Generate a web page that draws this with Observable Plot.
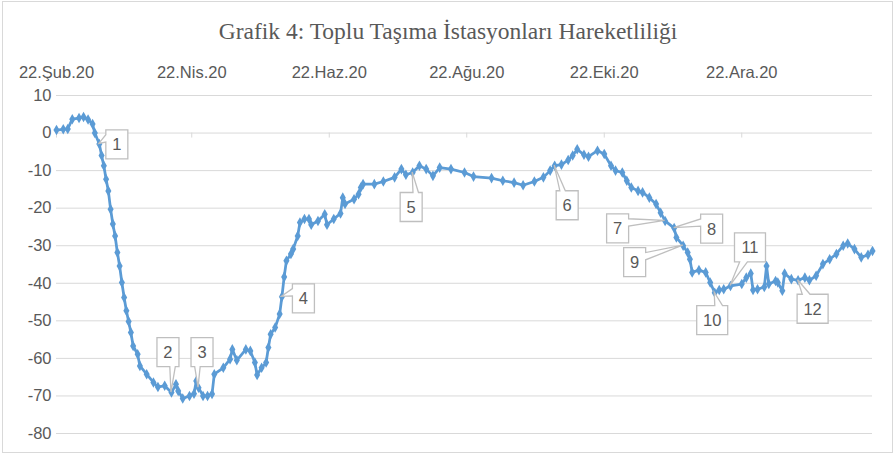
<!DOCTYPE html>
<html><head><meta charset="utf-8">
<script src="https://cdn.jsdelivr.net/npm/d3@7"></script>
<script src="https://cdn.jsdelivr.net/npm/@observablehq/plot@0.6"></script>
<style>
body{margin:0;background:#fff;}
#wrap{position:relative;width:896px;height:455px;overflow:hidden;background:#fff;}
#frame{position:absolute;left:2px;top:1px;width:891px;height:452px;border:1px solid #d9d9d9;box-sizing:border-box;pointer-events:none;}
#title{height:50px;box-sizing:border-box;padding-top:20px;line-height:1;text-align:center;font-family:"Liberation Serif","Times New Roman",serif;font-size:23.5px;color:#595959;white-space:nowrap;}
#chart svg{display:block;}
</style></head><body>
<div id="wrap"><div id="title">Grafik 4: Toplu Taşıma İstasyonları Hareketliliği</div><div id="chart"></div><div id="frame"></div></div>
<script>
// ---- data ----
const startDate = "2020-02-22";
const endOffset = 362;
const dayOffsets = [0,3,5,7,10,12,14,16,17,19,20,21,22,23,24,25,26,27,28,29,30,31,32,33,34,36,37,40,43,45,48,51,53,54,56,59,61,62,63,65,67,69,70,74,77,78,80,84,86,88,89,91,93,94,95,97,99,100,101,102,104,105,107,108,110,112,113,116,119,120,123,126,127,128,132,134,135,136,141,145,150,153,155,158,161,164,167,170,175,181,185,193,198,203,207,212,216,219,221,224,227,229,231,234,236,240,243,246,248,251,253,255,258,260,263,266,268,270,274,275,278,280,281,282,285,288,290,292,294,296,299,304,306,308,309,311,314,315,316,319,320,322,323,326,329,332,334,337,340,343,346,349,351,354,357,360,362];
const values = [0.8,1.0,1.1,3.7,4.0,4.3,3.6,2.4,0,-2.9,-6,-8.7,-12.3,-15.4,-20.3,-24.2,-27.4,-31.8,-35.4,-39.8,-43.8,-47.3,-50.2,-53.1,-56.7,-58.9,-62,-64.2,-66.4,-67.6,-67.3,-69.1,-66.9,-68.7,-70.7,-70,-69.4,-66,-67.8,-70,-70,-69.5,-64.2,-62.5,-60.2,-57.6,-60.5,-57.6,-58,-61.1,-64.4,-62.5,-61.1,-57.1,-53.6,-51.8,-48.2,-43.6,-38.3,-34,-32.2,-30.9,-27.4,-23.8,-22.9,-22.9,-24.4,-23.4,-21.6,-24.4,-22.9,-21.4,-17.2,-18.9,-17.6,-16.3,-14.5,-13.6,-13.6,-12.9,-11.8,-9.6,-11.1,-10.5,-8.7,-9.6,-11.4,-9.2,-9.6,-10.5,-11.6,-12,-12.7,-13.2,-13.9,-12.9,-11.8,-10,-8.7,-8.4,-7.2,-6,-4.3,-5.8,-6.3,-4.7,-5.6,-8.7,-10,-10.5,-12.7,-14.5,-15.4,-15.8,-17.2,-18.9,-21.2,-23.4,-25.3,-27.8,-30,-31.8,-33.6,-37.1,-36.5,-37.1,-39.8,-42.5,-41.8,-41.6,-40.7,-40.2,-38.5,-37.4,-41.8,-41.6,-41,-35.4,-40.2,-39.4,-39.8,-42,-37.4,-38.9,-39.2,-38.5,-39.2,-38,-34.9,-33.6,-32.2,-30,-29.4,-30.9,-33.1,-32.4,-31.4];
const tickDates = ["2020-02-22","2020-04-22","2020-06-22","2020-08-22","2020-10-22","2020-12-22"];
const tickLabels = ["22.Şub.20","22.Nis.20","22.Haz.20","22.Ağu.20","22.Eki.20","22.Ara.20"];
const yTicks = [10,0,-10,-20,-30,-40,-50,-60,-70,-80];
const calloutLabels = ["1","2","3","4","5","6","7","8","9","10","11","12"];
const calloutDays = [19,51,63,100,158,221,270,274,278,292,299,329];

// ---- layout (pixel offsets of callout boxes from their points) ----
const calloutOffsets = [[18,1],[-3,-40],[4,-35],[22,2],[-1,35],[13,40],[-47,8],[38,1],[-48,17],[-2,28],[20,-38],[15,29]];

const DAY = 864e5;
const t0 = Date.parse(startDate + "T00:00:00Z");
const toDate = d => new Date(t0 + d * DAY);
const data = dayOffsets.map((d, i) => ({date: toDate(d), value: values[i]}));
const ticks = tickDates.map(s => new Date(s + "T00:00:00Z"));
const labelMap = new Map(ticks.map((t, i) => [+t, tickLabels[i]]));

const blue = "#5b9bd5", grid = "#d9d9d9", textCol = "#595959";

const plot = Plot.plot({
  width: 896,
  height: 405,
  marginLeft: 56,
  marginRight: 24,
  marginTop: 45,
  marginBottom: 22,
  style: {fontFamily: "'Liberation Sans', Arial, sans-serif", fontSize: "16.5px", color: textCol, background: "transparent", overflow: "visible"},
  x: {type: "utc", domain: [toDate(0), toDate(endOffset)], axis: "top", ticks: ticks, tickFormat: d => labelMap.get(+d) ?? "", tickSize: 0, tickPadding: 18, label: null},
  y: {domain: [-80, 10], ticks: yTicks, tickFormat: d => String(d), tickSize: 0, tickPadding: 5, label: null},
  marks: [
    Plot.ruleY(yTicks, {stroke: grid, strokeWidth: 1}),
    Plot.ruleX(ticks, {y1: 0, y2: 0, insetBottom: -5, stroke: grid, strokeWidth: 1}),
    Plot.line(data, {x: "date", y: "value", stroke: blue, strokeWidth: 2.75, strokeLinejoin: "round"}),
    Plot.dot(data, {x: "date", y: "value", symbol: "diamond", r: 3.2, fill: blue, stroke: "none"})
  ]
});
document.getElementById("chart").appendChild(plot);

// ---- callouts drawn with the plot's own scales ----
const sx = plot.scale("x"), sy = plot.scale("y");
const X = d3.scaleUtc().domain(sx.domain).range(sx.range);
const Y = d3.scaleLinear().domain(sy.domain).range(sy.range);
const svg = d3.select(plot);
const g = svg.append("g").attr("class", "callouts");
calloutLabels.forEach((lab, i) => {
  const idx = dayOffsets.indexOf(calloutDays[i]);
  const tx = X(data[idx].date), ty = Y(data[idx].value);
  const w = lab.length > 1 ? 31 : 22, h = 29;
  const cx = tx + calloutOffsets[i][0], cy = ty + calloutOffsets[i][1];
  const l = cx - w / 2, t = cy - h / 2, r = l + w, b = t + h;
  const dxPos = tx - cx, dyPos = ty - cy;
  const dz = Math.abs(dyPos) - Math.abs(dxPos * h / w);
  const pts = [[l, t]];
  if (dz > 0 && dyPos < 0) {
    const x1 = l + w * (dxPos > 0 ? 7 : 2) / 12, x2 = l + w * (dxPos > 0 ? 10 : 5) / 12;
    pts.push([x1, t], [tx, ty], [x2, t]);
  }
  pts.push([r, t]);
  if (dz <= 0 && dxPos > 0) {
    const y1 = t + h * (dyPos > 0 ? 7 : 2) / 12, y2 = t + h * (dyPos > 0 ? 10 : 5) / 12;
    pts.push([r, y1], [tx, ty], [r, y2]);
  }
  pts.push([r, b]);
  if (dz > 0 && dyPos >= 0) {
    const x1 = l + w * (dxPos > 0 ? 7 : 2) / 12, x2 = l + w * (dxPos > 0 ? 10 : 5) / 12;
    pts.push([x2, b], [tx, ty], [x1, b]);
  }
  pts.push([l, b]);
  if (dz <= 0 && dxPos <= 0) {
    const y1 = t + h * (dyPos > 0 ? 7 : 2) / 12, y2 = t + h * (dyPos > 0 ? 10 : 5) / 12;
    pts.push([l, y2], [tx, ty], [l, y1]);
  }
  g.append("path")
    .attr("d", "M" + pts.map(p => p.join(",")).join("L") + "Z")
    .attr("fill", "#fff").attr("stroke", "#bfbfbf").attr("stroke-width", 1.3);
  g.append("text")
    .attr("x", cx).attr("y", cy).attr("dy", "0.36em")
    .attr("text-anchor", "middle")
    .attr("fill", textCol)
    .style("font-size", "16.5px")
    .text(lab);
});
</script>
</body></html>
